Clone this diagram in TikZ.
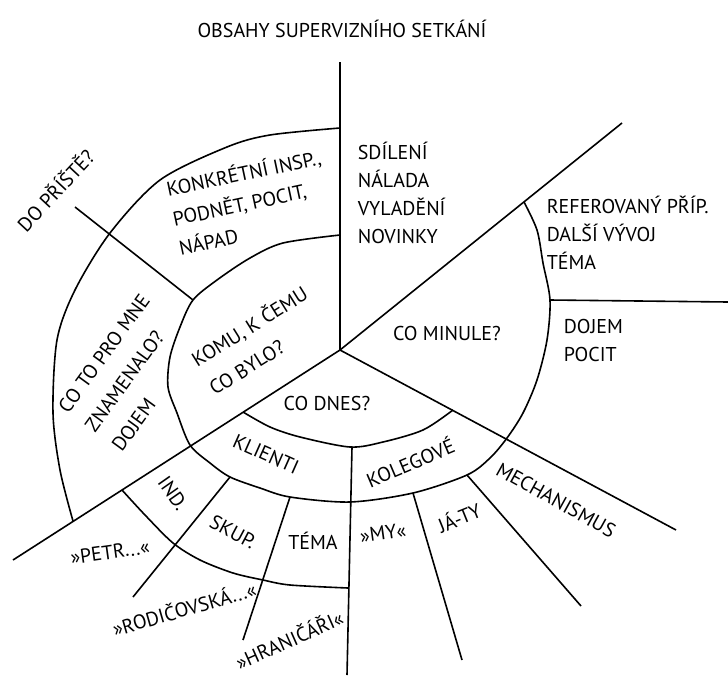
\documentclass[tikz,border=0pt]{standalone}
\usepackage{fontspec}
\setmainfont{PT Sans}
\begin{document}
\begin{tikzpicture}[x=1pt,y=-1pt,line width=1.6pt,line join=round,
	lbl/.style={inner sep=0pt,font=\fontsize{20}{28}\selectfont,align=left}]


%	\draw[step=50,gray,very thin] (0,0) grid (728,675);
	\useasboundingbox (0,0) rectangle (728,675);

	\node (title) at (342,29) [lbl] {OBSAHY SUPERVIZNÍHO SETKÁNÍ};

	% spokes from the hub
	\coordinate (hub) at (340,350);
	\draw (hub) -- (340,62);
	\draw (hub) -- (622,123);
	\draw (hub) -- (13,560);
	\draw (hub) -- (676,530);

	% rings
	\draw plot[smooth] coordinates {(340,128) (270,135) (227,147) (160,180) (110,233) (75,290) (57,340) (53,413) (60,470) (73,521)};
	\draw plot[smooth] coordinates {(340,235) (283,243) (250,258) (217,280) (193,300) (180,327) (170,357) (168,387) (177,413) (190,445) (210,463) (230,477) (260,488) (290,497) (350,502) (413,493) (467,475) (490,458) (507,438) (523,413) (537,380) (547,340) (550,300) (543,263) (537,230) (524,202)};
	\draw plot[smooth] coordinates {(243,412) (270,427) (300,437) (350,447) (383,442) (423,430) (453,410)};
	\draw plot[smooth] coordinates {(122,490) (145,515) (173,543) (200,560) (233,573) (263,580) (290,585) (348,588)};

	% short dividers
	\draw (550,300) -- (728,302);
	\draw (75,207) -- (193,300);
	\draw (352,447) -- (347,675);
	\draw (230,477) -- (133,597);
	\draw (290,497) -- (243,640);
	\draw (413,493) -- (462,660);
	\draw (467,475) -- (581,606);

	\node (sdileni) at (357,193) [lbl,anchor=west] {SDÍLENÍ\\NÁLADA\\VYLADĚNÍ\\NOVINKY};
	\node (konkr) at (172,218) [lbl,anchor=west,rotate=12,font=\fontsize{20}{30}\selectfont] {KONKRÉTNÍ INSP.,\\PODNĚT, POCIT,\\NÁPAD};
	\node (pristi) at (55,190) [lbl,rotate=47] {DO PŘÍŠTĚ?};
	\node (mne) at (89,430) [lbl,anchor=west,rotate=54,font=\fontsize{20}{33}\selectfont] {CO TO PRO MNE\\ZNAMENALO?\\DOJEM};
	\node (komu) at (201,375) [lbl,anchor=west,rotate=32,font=\fontsize{20}{33}\selectfont] {KOMU, K ČEMU\\CO BYLO?};
	\node (refer) at (546,233) [lbl,anchor=west] {REFEROVANÝ PŘÍP.\\DALŠÍ VÝVOJ\\TÉMA};
	\node (dojem) at (563,340) [lbl,anchor=west] {DOJEM\\POCIT};
	\node (minule) at (447,333) [lbl] {CO MINULE?};
	\node (dnes) at (327,403) [lbl] {CO DNES?};

	\node (klienti) at (266,454) [lbl,rotate=-24] {KLIENTI};
	\node (kolegove) at (410,462) [lbl,rotate=23] {KOLEGOVÉ};
	\node (ind) at (173,493) [lbl,rotate=-55] {IND.};
	\node (skup) at (233,532) [lbl,rotate=-28] {SKUP.};
	\node (tema) at (313,541) [lbl] {TÉMA};
	\node (petr) at (110,552) [lbl,rotate=8] {»PETR...«};
	\node (rodic) at (184,608) [lbl,rotate=16] {»RODIČOVSKÁ...«};
	\node (hranic) at (289,639) [lbl,rotate=24] {»HRANIČÁŘI«};
	\node (my) at (383,533) [lbl,rotate=8] {»MY«};
	\node (jaty) at (459,517) [lbl,rotate=22] {JÁ-TY};
	\node (mech) at (556,500) [lbl,rotate=-29] {MECHANISMUS};



\end{tikzpicture}
\end{document}
